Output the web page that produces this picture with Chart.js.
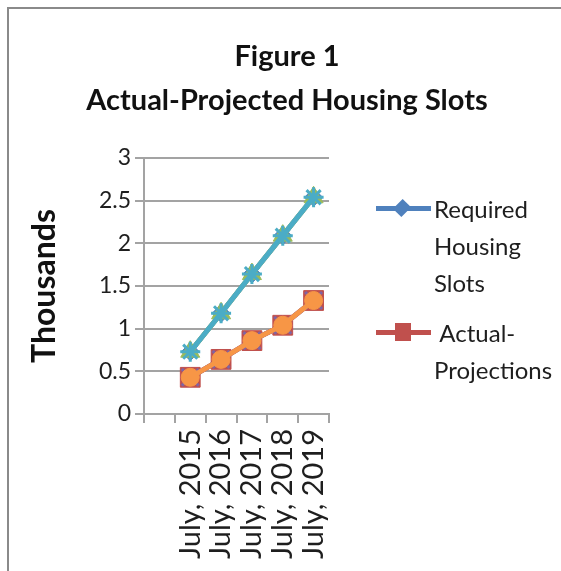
<!DOCTYPE html>
<html>
<head>
<meta charset="utf-8">
<script src="https://cdn.jsdelivr.net/npm/chart.js@4.4.1/dist/chart.umd.min.js"></script>
<style>
html,body{margin:0;padding:0;background:#fff;overflow:hidden;width:561px;height:571px;scrollbar-width:none;}
::-webkit-scrollbar{display:none;width:0;height:0;}
#wrap{position:relative;width:561px;height:571px;overflow:hidden;background:#fff;}
#c{position:absolute;left:0;top:0;}
#legend{position:absolute;left:0;top:0;width:561px;height:571px;pointer-events:none;}
.lg-line{position:absolute;height:5px;}
.lg-mark{position:absolute;}
.lg-text{position:absolute;font-family:Lato,sans-serif;font-size:24px;line-height:37px;color:#1e1e1e;white-space:pre;}
</style>
</head>
<body>
<div id="wrap">
  <canvas id="c" width="561" height="571"></canvas>
  <div id="legend"></div>
</div>
<script>
// ---- data ----
const categories = ["", "July, 2015", "July, 2016", "July, 2017", "July, 2018", "July, 2019"];
const requiredSlots = [null, 0.73, 1.18, 1.64, 2.09, 2.54];
const actualProjections = [null, 0.43, 0.64, 0.86, 1.04, 1.33];
const yTickValues = [0, 0.5, 1, 1.5, 2, 2.5, 3];
const titleLines = ["Figure 1", "Actual-Projected Housing Slots"];
const seriesNames = ["Required Housing Slots", "Actual-Projections"];
const legendLines = [["Required", "Housing", "Slots"], [" Actual-", "Projections"]];
const yAxisTitle = "Thousands";

const C = {blue:'#4F81BD', red:'#C0504D', green:'#9BBB59', purple:'#8064A2', aqua:'#4BACC6', orange:'#F79646'};

function series(label, data, color, style, radius, order, pbw) {
  return {
    label: label, data: data, borderColor: color, backgroundColor: color,
    borderWidth: 5, pointStyle: style, pointRadius: radius, pointHoverRadius: radius,
    pointBackgroundColor: color, pointBorderColor: color, pointBorderWidth: pbw,
    order: order, tension: 0, fill: false
  };
}

const datasets = [
  series(seriesNames[0], requiredSlots, C.blue, 'rectRot', 9, 6, 1),
  series(seriesNames[1], actualProjections, C.red, 'rect', 14, 5, 1),
  series('', requiredSlots, C.green, 'triangle', 11, 4, 1),
  series('', actualProjections, C.purple, 'crossRot', 12, 3, 3),
  series('', requiredSlots, C.aqua, 'star', 10, 2, 3),
  series('', actualProjections, C.orange, 'circle', 9, 1, 1)
];

const gridCol = '#a3a3a3';
Chart.defaults.font.family = 'Lato';

// reserves room on the right of the plot for the legend
const rightSpace = {
  id: 'rightSpace',
  beforeInit(chart) {
    Chart.layouts.addBox(chart, {
      position: 'right', weight: 100, fullSize: false, options: {},
      left: 0, top: 0, right: 0, bottom: 0, width: 0, height: 0,
      isHorizontal() { return false; },
      update(maxW, maxH) { this.width = 232; this.height = maxH; },
      draw() {}
    });
  }
};

// outer frame (left and top edges of the picture border)
const framePlugin = {
  id: 'framePlugin',
  beforeDraw(chart) {
    const ctx = chart.ctx;
    ctx.save();
    ctx.strokeStyle = '#8a8a8a';
    ctx.lineWidth = 2;
    ctx.beginPath();
    ctx.moveTo(8, chart.height);
    ctx.lineTo(8, 8);
    ctx.lineTo(chart.width, 8);
    ctx.stroke();
    ctx.restore();
  }
};

const chart = new Chart(document.getElementById('c'), {
  type: 'line',
  data: { labels: categories, datasets: datasets },
  plugins: [rightSpace, framePlugin],
  options: {
    responsive: false, animation: false, devicePixelRatio: 1,
    layout: { padding: { left: 13, right: 0, top: 0, bottom: 0 } },
    plugins: {
      legend: { display: false },
      tooltip: { enabled: false },
      title: {
        display: true, text: titleLines, color: '#111',
        font: { family: 'Lato', size: 29, weight: 'bold', lineHeight: 1.5 },
        padding: { top: 35, bottom: 36 }
      }
    },
    scales: {
      x: {
        offset: true,
        grid: { offset: true, drawOnChartArea: false, drawTicks: true, tickLength: 9, color: gridCol, lineWidth: 2 },
        border: { color: gridCol, width: 2 },
        ticks: { minRotation: 90, maxRotation: 90, autoSkip: false, color: '#1e1e1e', padding: 6,
                 font: { family: 'Lato', size: 29 } },
        afterFit: function(s) { s.height = 157; }
      },
      y: {
        min: 0, max: 3,
        afterBuildTicks: function(s) { s.ticks = yTickValues.map(v => ({ value: v })); },
        grid: { color: gridCol, lineWidth: 2, tickLength: 9 },
        border: { color: gridCol, width: 2 },
        ticks: { color: '#1e1e1e', padding: 4, font: { family: 'Lato', size: 23 },
                 callback: function(v) { return String(v); } },
        title: { display: true, text: yAxisTitle, color: '#111',
                 font: { family: 'Lato', size: 32, weight: 'bold' }, padding: { top: 12, bottom: 0 } },
        afterFit: function(s) { s.width = 131; }
      }
    }
  }
});

// ---- HTML legend built from the first two datasets ----
(function buildLegend() {
  const lg = document.getElementById('legend');
  const spec = [
    { cy: 208, textTop: 190, mark: 'diamond' },
    { cy: 332, textTop: 314, mark: 'square' }
  ];
  spec.forEach(function(sp, i) {
    const ds = chart.data.datasets[i];
    const line = document.createElement('div');
    line.className = 'lg-line';
    line.style.cssText = 'left:376px;width:55px;top:' + (sp.cy - 2.5) + 'px;background:' + ds.borderColor + ';';
    lg.appendChild(line);
    const m = document.createElement('div');
    m.className = 'lg-mark';
    if (sp.mark === 'diamond') {
      m.style.cssText = 'left:396px;top:' + (sp.cy - 6) + 'px;width:12px;height:12px;transform:rotate(45deg) scaleY(1.15);background:' + ds.borderColor + ';';
    } else {
      m.style.cssText = 'left:395px;top:' + (sp.cy - 9) + 'px;width:16px;height:18px;background:' + ds.borderColor + ';';
    }
    lg.appendChild(m);
    const t = document.createElement('div');
    t.className = 'lg-text';
    t.style.left = '434px';
    t.style.top = sp.textTop + 'px';
    t.textContent = legendLines[i].join('\n');
    lg.appendChild(t);
  });
})();
</script>
</body>
</html>
